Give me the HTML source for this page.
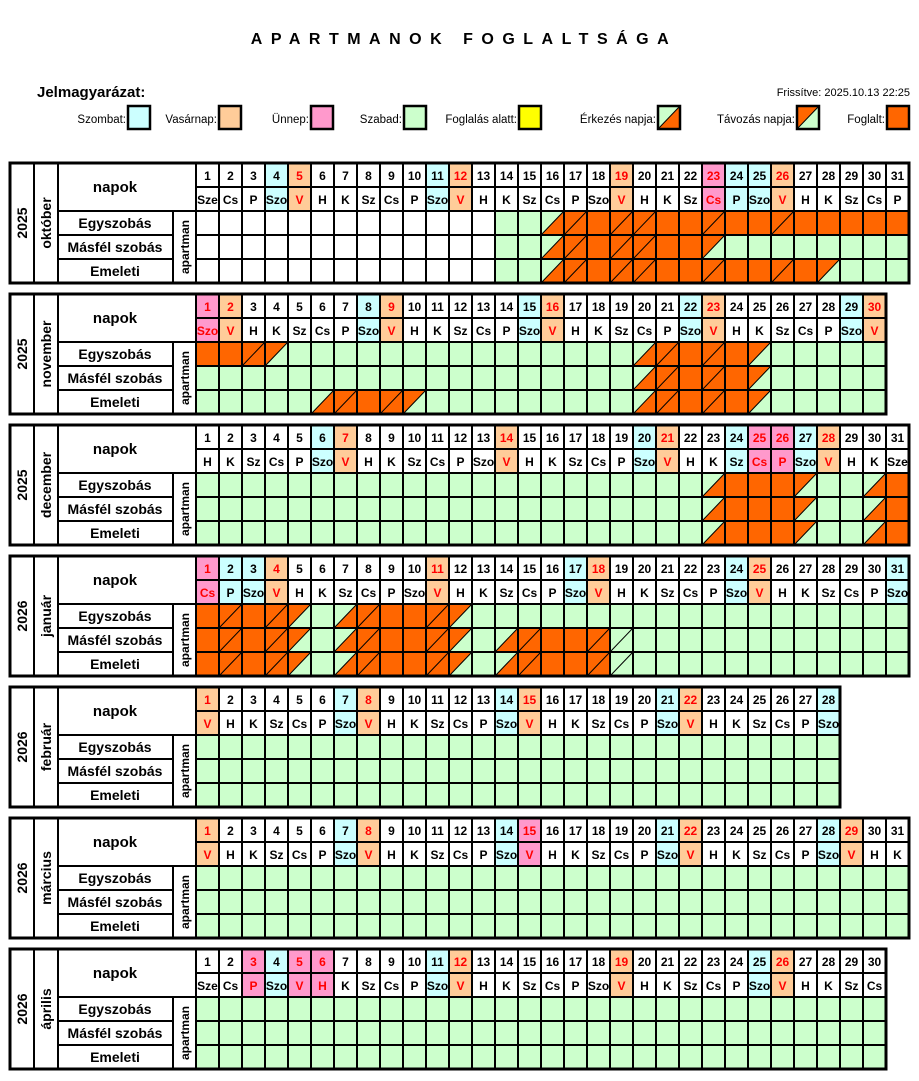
<!DOCTYPE html>
<html><head><meta charset="utf-8"><style>
html,body{margin:0;padding:0;background:#fff;width:919px;height:1081px;overflow:hidden}
svg{display:block}
text{font-family:"Liberation Sans",Arial,sans-serif;font-weight:bold;font-size:12px;text-anchor:middle;fill:#000}
.r{fill:#f00}
.c{fill:#ccffff}.p{fill:#ffcc99}.k{fill:#ff99cc}.g{fill:#ccffcc}.o{fill:#ff6600}.w{fill:#fff}
.ln{fill:none;stroke:#000;stroke-width:2}
.ob{fill:none;stroke:#000;stroke-width:3}
.dg{fill:none;stroke:#000;stroke-width:1}
.lab{font-size:14px}
.nap{font-size:15px}
.lg{font-weight:normal;font-size:11.5px;text-anchor:end}
</style></head><body>
<svg width="919" height="1081" viewBox="0 0 919 1081" xmlns="http://www.w3.org/2000/svg">
<defs><pattern id="vl" x="195" y="0" width="23" height="10" patternUnits="userSpaceOnUse"><rect width="2" height="10" fill="#000"/></pattern></defs>

<text x="464" y="44" style="font-size:16px;letter-spacing:8.5px">APARTMANOK  FOGLALTSÁGA</text>
<text x="37" y="97" style="font-size:15px;text-anchor:start">Jelmagyarázat:</text>
<text x="910" y="96" style="font-size:11px;text-anchor:end;font-weight:normal">Frissítve: 2025.10.13 22:25</text>

<g>
<text class="lg" x="126" y="123">Szombat:</text><rect x="128" y="106" width="22" height="23" class="c" stroke="#000" stroke-width="2.5"/>
<text class="lg" x="217" y="123">Vasárnap:</text><rect x="219" y="106" width="22" height="23" class="p" stroke="#000" stroke-width="2.5"/>
<text class="lg" x="309" y="123">Ünnep:</text><rect x="311" y="106" width="22" height="23" class="k" stroke="#000" stroke-width="2.5"/>
<text class="lg" x="402" y="123">Szabad:</text><rect x="404" y="106" width="22" height="23" class="g" stroke="#000" stroke-width="2.5"/>
<text class="lg" x="517" y="123">Foglalás alatt:</text><rect x="519" y="106" width="22" height="23" fill="#ffff00" stroke="#000" stroke-width="2.5"/>
<text class="lg" x="656" y="123">Érkezés napja:</text><rect x="658" y="106" width="22" height="23" class="g"/><polygon points="658,129 680,106 680,129" class="o"/><path d="M658 129L680 106" class="dg"/><rect x="658" y="106" width="22" height="23" fill="none" stroke="#000" stroke-width="2.5"/>
<text class="lg" x="795" y="123">Távozás napja:</text><rect x="797" y="106" width="22" height="23" class="g"/><polygon points="797,106 819,106 797,129" class="o"/><path d="M797 129L819 106" class="dg"/><rect x="797" y="106" width="22" height="23" fill="none" stroke="#000" stroke-width="2.5"/>
<text class="lg" x="885" y="123">Foglalt:</text><rect x="887" y="106" width="22" height="23" class="o" stroke="#000" stroke-width="2.5"/>
</g>

<!-- OKTOBER -->
<g transform="translate(0,163)">
<rect x="196" y="48" width="299" height="72" class="w"/>
<rect x="495" y="48" width="414" height="72" class="g"/>
<rect x="265" y="0" width="23" height="48" class="c"/><rect x="426" y="0" width="23" height="48" class="c"/><rect x="725" y="0" width="46" height="48" class="c"/>
<rect x="288" y="0" width="23" height="48" class="p"/><rect x="449" y="0" width="23" height="48" class="p"/><rect x="610" y="0" width="23" height="48" class="p"/><rect x="771" y="0" width="23" height="48" class="p"/>
<rect x="702" y="0" width="23" height="48" class="k"/>
<polygon points="541,72 564,48 564,72" class="o"/><rect x="564" y="48" width="345" height="24" class="o"/>
<polygon points="541,96 564,72 564,96" class="o"/><rect x="564" y="72" width="138" height="24" class="o"/><polygon points="702,72 725,72 702,96" class="o"/>
<polygon points="541,120 564,96 564,120" class="o"/><rect x="564" y="96" width="253" height="24" class="o"/><polygon points="817,96 840,96 817,120" class="o"/>
<path class="dg" d="M541 72L564 48M564 72L587 48M610 72L633 48M633 72L656 48M702 72L725 48M771 72L794 48M541 96L564 72M564 96L587 72M610 96L633 72M633 96L656 72M702 96L725 72M541 120L564 96M564 120L587 96M610 120L633 96M633 120L656 96M702 120L725 96M771 120L794 96M817 120L840 96"/>
<rect x="195" y="0" width="714" height="120" fill="url(#vl)"/>
<path class="ln" d="M34 0V120M58 0V120M173 48V120M196 0V120M196 24H909M58 48H909M58 72H173M196 72H909M58 96H173M196 96H909"/>
<rect x="10" y="0" width="899" height="120" class="ob"/>
<text class="lab" transform="translate(27,60) rotate(-90)">2025</text><text class="lab" transform="translate(51,60) rotate(-90)">október</text>
<text x="115" y="29" class="nap">napok</text><text class="lab" x="115" y="65">Egyszobás</text><text class="lab" x="115" y="89">Másfél szobás</text><text class="lab" x="115" y="113">Emeleti</text><text transform="translate(189,84) rotate(-90)" style="font-size:12px">apartman</text>
<text x="207.5" y="17">1</text><text x="230.5" y="17">2</text><text x="253.5" y="17">3</text><text x="276.5" y="17">4</text><text x="299.5" y="17" class="r">5</text><text x="322.5" y="17">6</text><text x="345.5" y="17">7</text><text x="368.5" y="17">8</text><text x="391.5" y="17">9</text><text x="414.5" y="17">10</text><text x="437.5" y="17">11</text><text x="460.5" y="17" class="r">12</text><text x="483.5" y="17">13</text><text x="506.5" y="17">14</text><text x="529.5" y="17">15</text><text x="552.5" y="17">16</text><text x="575.5" y="17">17</text><text x="598.5" y="17">18</text><text x="621.5" y="17" class="r">19</text><text x="644.5" y="17">20</text><text x="667.5" y="17">21</text><text x="690.5" y="17">22</text><text x="713.5" y="17" class="r">23</text><text x="736.5" y="17">24</text><text x="759.5" y="17">25</text><text x="782.5" y="17" class="r">26</text><text x="805.5" y="17">27</text><text x="828.5" y="17">28</text><text x="851.5" y="17">29</text><text x="874.5" y="17">30</text><text x="897.5" y="17">31</text>
<text x="207.5" y="41">Sze</text><text x="230.5" y="41">Cs</text><text x="253.5" y="41">P</text><text x="276.5" y="41">Szo</text><text x="299.5" y="41" class="r">V</text><text x="322.5" y="41">H</text><text x="345.5" y="41">K</text><text x="368.5" y="41">Sz</text><text x="391.5" y="41">Cs</text><text x="414.5" y="41">P</text><text x="437.5" y="41">Szo</text><text x="460.5" y="41" class="r">V</text><text x="483.5" y="41">H</text><text x="506.5" y="41">K</text><text x="529.5" y="41">Sz</text><text x="552.5" y="41">Cs</text><text x="575.5" y="41">P</text><text x="598.5" y="41">Szo</text><text x="621.5" y="41" class="r">V</text><text x="644.5" y="41">H</text><text x="667.5" y="41">K</text><text x="690.5" y="41">Sz</text><text x="713.5" y="41" class="r">Cs</text><text x="736.5" y="41">P</text><text x="759.5" y="41">Szo</text><text x="782.5" y="41" class="r">V</text><text x="805.5" y="41">H</text><text x="828.5" y="41">K</text><text x="851.5" y="41">Sz</text><text x="874.5" y="41">Cs</text><text x="897.5" y="41">P</text>
</g>

<!-- NOVEMBER -->
<g transform="translate(0,294)">
<rect x="196" y="48" width="690" height="72" class="g"/>
<rect x="196" y="0" width="23" height="48" class="k"/>
<rect x="219" y="0" width="23" height="48" class="p"/><rect x="380" y="0" width="23" height="48" class="p"/><rect x="541" y="0" width="23" height="48" class="p"/><rect x="702" y="0" width="23" height="48" class="p"/><rect x="863" y="0" width="23" height="48" class="p"/>
<rect x="357" y="0" width="23" height="48" class="c"/><rect x="518" y="0" width="23" height="48" class="c"/><rect x="679" y="0" width="23" height="48" class="c"/><rect x="840" y="0" width="23" height="48" class="c"/>
<rect x="196" y="48" width="69" height="24" class="o"/><polygon points="265,48 288,48 265,72" class="o"/>
<polygon points="633,72 656,48 656,72" class="o"/><rect x="656" y="48" width="92" height="24" class="o"/><polygon points="748,48 771,48 748,72" class="o"/>
<polygon points="633,96 656,72 656,96" class="o"/><rect x="656" y="72" width="92" height="24" class="o"/><polygon points="748,72 771,72 748,96" class="o"/>
<polygon points="311,120 334,96 334,120" class="o"/><rect x="334" y="96" width="69" height="24" class="o"/><polygon points="403,96 426,96 403,120" class="o"/>
<polygon points="633,120 656,96 656,120" class="o"/><rect x="656" y="96" width="92" height="24" class="o"/><polygon points="748,96 771,96 748,120" class="o"/>
<path class="dg" d="M242 72L265 48M265 72L288 48M633 72L656 48M656 72L679 48M702 72L725 48M748 72L771 48M633 96L656 72M656 96L679 72M702 96L725 72M748 96L771 72M311 120L334 96M334 120L357 96M380 120L403 96M403 120L426 96M633 120L656 96M656 120L679 96M702 120L725 96M748 120L771 96"/>
<rect x="195" y="0" width="691" height="120" fill="url(#vl)"/>
<path class="ln" d="M34 0V120M58 0V120M173 48V120M196 0V120M196 24H886M58 48H886M58 72H173M196 72H886M58 96H173M196 96H886"/>
<rect x="10" y="0" width="876" height="120" class="ob"/>
<text class="lab" transform="translate(27,60) rotate(-90)">2025</text><text class="lab" transform="translate(51,60) rotate(-90)">november</text>
<text x="115" y="29" class="nap">napok</text><text class="lab" x="115" y="65">Egyszobás</text><text class="lab" x="115" y="89">Másfél szobás</text><text class="lab" x="115" y="113">Emeleti</text><text transform="translate(189,84) rotate(-90)" style="font-size:12px">apartman</text>
<text x="207.5" y="17" class="r">1</text><text x="230.5" y="17" class="r">2</text><text x="253.5" y="17">3</text><text x="276.5" y="17">4</text><text x="299.5" y="17">5</text><text x="322.5" y="17">6</text><text x="345.5" y="17">7</text><text x="368.5" y="17">8</text><text x="391.5" y="17" class="r">9</text><text x="414.5" y="17">10</text><text x="437.5" y="17">11</text><text x="460.5" y="17">12</text><text x="483.5" y="17">13</text><text x="506.5" y="17">14</text><text x="529.5" y="17">15</text><text x="552.5" y="17" class="r">16</text><text x="575.5" y="17">17</text><text x="598.5" y="17">18</text><text x="621.5" y="17">19</text><text x="644.5" y="17">20</text><text x="667.5" y="17">21</text><text x="690.5" y="17">22</text><text x="713.5" y="17" class="r">23</text><text x="736.5" y="17">24</text><text x="759.5" y="17">25</text><text x="782.5" y="17">26</text><text x="805.5" y="17">27</text><text x="828.5" y="17">28</text><text x="851.5" y="17">29</text><text x="874.5" y="17" class="r">30</text>
<text x="207.5" y="41" class="r">Szo</text><text x="230.5" y="41" class="r">V</text><text x="253.5" y="41">H</text><text x="276.5" y="41">K</text><text x="299.5" y="41">Sz</text><text x="322.5" y="41">Cs</text><text x="345.5" y="41">P</text><text x="368.5" y="41">Szo</text><text x="391.5" y="41" class="r">V</text><text x="414.5" y="41">H</text><text x="437.5" y="41">K</text><text x="460.5" y="41">Sz</text><text x="483.5" y="41">Cs</text><text x="506.5" y="41">P</text><text x="529.5" y="41">Szo</text><text x="552.5" y="41" class="r">V</text><text x="575.5" y="41">H</text><text x="598.5" y="41">K</text><text x="621.5" y="41">Sz</text><text x="644.5" y="41">Cs</text><text x="667.5" y="41">P</text><text x="690.5" y="41">Szo</text><text x="713.5" y="41" class="r">V</text><text x="736.5" y="41">H</text><text x="759.5" y="41">K</text><text x="782.5" y="41">Sz</text><text x="805.5" y="41">Cs</text><text x="828.5" y="41">P</text><text x="851.5" y="41">Szo</text><text x="874.5" y="41" class="r">V</text>
</g>

<!-- DECEMBER -->
<g transform="translate(0,425)">
<rect x="196" y="48" width="713" height="72" class="g"/>
<rect x="311" y="0" width="23" height="48" class="c"/><rect x="633" y="0" width="23" height="48" class="c"/><rect x="725" y="0" width="23" height="48" class="c"/><rect x="794" y="0" width="23" height="48" class="c"/>
<rect x="334" y="0" width="23" height="48" class="p"/><rect x="495" y="0" width="23" height="48" class="p"/><rect x="656" y="0" width="23" height="48" class="p"/><rect x="817" y="0" width="23" height="48" class="p"/>
<rect x="748" y="0" width="46" height="48" class="k"/>
<polygon points="702,72 725,48 725,72" class="o"/><rect x="725" y="48" width="69" height="72" class="o"/><polygon points="794,48 817,48 794,72" class="o"/><polygon points="863,72 886,48 886,72" class="o"/><rect x="886" y="48" width="23" height="72" class="o"/>
<polygon points="702,96 725,72 725,96" class="o"/><polygon points="794,72 817,72 794,96" class="o"/><polygon points="863,96 886,72 886,96" class="o"/>
<polygon points="702,120 725,96 725,120" class="o"/><polygon points="794,96 817,96 794,120" class="o"/><polygon points="863,120 886,96 886,120" class="o"/>
<path class="dg" d="M702 72L725 48M794 72L817 48M863 72L886 48M702 96L725 72M794 96L817 72M863 96L886 72M702 120L725 96M794 120L817 96M863 120L886 96"/>
<rect x="195" y="0" width="714" height="120" fill="url(#vl)"/>
<path class="ln" d="M34 0V120M58 0V120M173 48V120M196 0V120M196 24H909M58 48H909M58 72H173M196 72H909M58 96H173M196 96H909"/>
<rect x="10" y="0" width="899" height="120" class="ob"/>
<text class="lab" transform="translate(27,60) rotate(-90)">2025</text><text class="lab" transform="translate(51,60) rotate(-90)">december</text>
<text x="115" y="29" class="nap">napok</text><text class="lab" x="115" y="65">Egyszobás</text><text class="lab" x="115" y="89">Másfél szobás</text><text class="lab" x="115" y="113">Emeleti</text><text transform="translate(189,84) rotate(-90)" style="font-size:12px">apartman</text>
<text x="207.5" y="17">1</text><text x="230.5" y="17">2</text><text x="253.5" y="17">3</text><text x="276.5" y="17">4</text><text x="299.5" y="17">5</text><text x="322.5" y="17">6</text><text x="345.5" y="17" class="r">7</text><text x="368.5" y="17">8</text><text x="391.5" y="17">9</text><text x="414.5" y="17">10</text><text x="437.5" y="17">11</text><text x="460.5" y="17">12</text><text x="483.5" y="17">13</text><text x="506.5" y="17" class="r">14</text><text x="529.5" y="17">15</text><text x="552.5" y="17">16</text><text x="575.5" y="17">17</text><text x="598.5" y="17">18</text><text x="621.5" y="17">19</text><text x="644.5" y="17">20</text><text x="667.5" y="17" class="r">21</text><text x="690.5" y="17">22</text><text x="713.5" y="17">23</text><text x="736.5" y="17">24</text><text x="759.5" y="17" class="r">25</text><text x="782.5" y="17" class="r">26</text><text x="805.5" y="17">27</text><text x="828.5" y="17" class="r">28</text><text x="851.5" y="17">29</text><text x="874.5" y="17">30</text><text x="897.5" y="17">31</text>
<text x="207.5" y="41">H</text><text x="230.5" y="41">K</text><text x="253.5" y="41">Sz</text><text x="276.5" y="41">Cs</text><text x="299.5" y="41">P</text><text x="322.5" y="41">Szo</text><text x="345.5" y="41" class="r">V</text><text x="368.5" y="41">H</text><text x="391.5" y="41">K</text><text x="414.5" y="41">Sz</text><text x="437.5" y="41">Cs</text><text x="460.5" y="41">P</text><text x="483.5" y="41">Szo</text><text x="506.5" y="41" class="r">V</text><text x="529.5" y="41">H</text><text x="552.5" y="41">K</text><text x="575.5" y="41">Sz</text><text x="598.5" y="41">Cs</text><text x="621.5" y="41">P</text><text x="644.5" y="41">Szo</text><text x="667.5" y="41" class="r">V</text><text x="690.5" y="41">H</text><text x="713.5" y="41">K</text><text x="736.5" y="41">Sz</text><text x="759.5" y="41" class="r">Cs</text><text x="782.5" y="41" class="r">P</text><text x="805.5" y="41">Szo</text><text x="828.5" y="41" class="r">V</text><text x="851.5" y="41">H</text><text x="874.5" y="41">K</text><text x="897.5" y="41">Sze</text>
</g>

<!-- JANUAR -->
<g transform="translate(0,556)">
<rect x="196" y="48" width="713" height="72" class="g"/>
<rect x="196" y="0" width="23" height="48" class="k"/>
<rect x="219" y="0" width="46" height="48" class="c"/><rect x="564" y="0" width="23" height="48" class="c"/><rect x="725" y="0" width="23" height="48" class="c"/><rect x="886" y="0" width="23" height="48" class="c"/>
<rect x="265" y="0" width="23" height="48" class="p"/><rect x="426" y="0" width="23" height="48" class="p"/><rect x="587" y="0" width="23" height="48" class="p"/><rect x="748" y="0" width="23" height="48" class="p"/>
<rect x="196" y="48" width="92" height="72" class="o"/><rect x="357" y="48" width="92" height="72" class="o"/>
<polygon points="288,48 311,48 288,72" class="o"/><polygon points="334,72 357,48 357,72" class="o"/><polygon points="449,48 472,48 449,72" class="o"/>
<polygon points="288,72 311,72 288,96" class="o"/><polygon points="334,96 357,72 357,96" class="o"/><polygon points="449,72 472,72 449,96" class="o"/>
<polygon points="288,96 311,96 288,120" class="o"/><polygon points="334,120 357,96 357,120" class="o"/><polygon points="449,96 472,96 449,120" class="o"/>
<polygon points="495,96 518,72 518,96" class="o"/><rect x="518" y="72" width="92" height="48" class="o"/><polygon points="587,72 610,72 587,96" class="o"/>
<polygon points="495,120 518,96 518,120" class="o"/><polygon points="587,96 610,96 587,120" class="o"/>
<path class="dg" d="M219 72L242 48M265 72L288 48M288 72L311 48M334 72L357 48M357 72L380 48M426 72L449 48M449 72L472 48M219 96L242 72M265 96L288 72M288 96L311 72M334 96L357 72M357 96L380 72M426 96L449 72M449 96L472 72M495 96L518 72M518 96L541 72M587 96L610 72M610 96L633 72M219 120L242 96M265 120L288 96M288 120L311 96M334 120L357 96M357 120L380 96M426 120L449 96M449 120L472 96M495 120L518 96M518 120L541 96M587 120L610 96M610 120L633 96"/>
<rect x="195" y="0" width="714" height="120" fill="url(#vl)"/>
<path class="ln" d="M34 0V120M58 0V120M173 48V120M196 0V120M196 24H909M58 48H909M58 72H173M196 72H909M58 96H173M196 96H909"/>
<rect x="10" y="0" width="899" height="120" class="ob"/>
<text class="lab" transform="translate(27,60) rotate(-90)">2026</text><text class="lab" transform="translate(51,60) rotate(-90)">január</text>
<text x="115" y="29" class="nap">napok</text><text class="lab" x="115" y="65">Egyszobás</text><text class="lab" x="115" y="89">Másfél szobás</text><text class="lab" x="115" y="113">Emeleti</text><text transform="translate(189,84) rotate(-90)" style="font-size:12px">apartman</text>
<text x="207.5" y="17" class="r">1</text><text x="230.5" y="17">2</text><text x="253.5" y="17">3</text><text x="276.5" y="17" class="r">4</text><text x="299.5" y="17">5</text><text x="322.5" y="17">6</text><text x="345.5" y="17">7</text><text x="368.5" y="17">8</text><text x="391.5" y="17">9</text><text x="414.5" y="17">10</text><text x="437.5" y="17" class="r">11</text><text x="460.5" y="17">12</text><text x="483.5" y="17">13</text><text x="506.5" y="17">14</text><text x="529.5" y="17">15</text><text x="552.5" y="17">16</text><text x="575.5" y="17">17</text><text x="598.5" y="17" class="r">18</text><text x="621.5" y="17">19</text><text x="644.5" y="17">20</text><text x="667.5" y="17">21</text><text x="690.5" y="17">22</text><text x="713.5" y="17">23</text><text x="736.5" y="17">24</text><text x="759.5" y="17" class="r">25</text><text x="782.5" y="17">26</text><text x="805.5" y="17">27</text><text x="828.5" y="17">28</text><text x="851.5" y="17">29</text><text x="874.5" y="17">30</text><text x="897.5" y="17">31</text>
<text x="207.5" y="41" class="r">Cs</text><text x="230.5" y="41">P</text><text x="253.5" y="41">Szo</text><text x="276.5" y="41" class="r">V</text><text x="299.5" y="41">H</text><text x="322.5" y="41">K</text><text x="345.5" y="41">Sz</text><text x="368.5" y="41">Cs</text><text x="391.5" y="41">P</text><text x="414.5" y="41">Szo</text><text x="437.5" y="41" class="r">V</text><text x="460.5" y="41">H</text><text x="483.5" y="41">K</text><text x="506.5" y="41">Sz</text><text x="529.5" y="41">Cs</text><text x="552.5" y="41">P</text><text x="575.5" y="41">Szo</text><text x="598.5" y="41" class="r">V</text><text x="621.5" y="41">H</text><text x="644.5" y="41">K</text><text x="667.5" y="41">Sz</text><text x="690.5" y="41">Cs</text><text x="713.5" y="41">P</text><text x="736.5" y="41">Szo</text><text x="759.5" y="41" class="r">V</text><text x="782.5" y="41">H</text><text x="805.5" y="41">K</text><text x="828.5" y="41">Sz</text><text x="851.5" y="41">Cs</text><text x="874.5" y="41">P</text><text x="897.5" y="41">Szo</text>
</g>

<!-- FEBRUAR -->
<g transform="translate(0,687)">
<rect x="196" y="48" width="644" height="72" class="g"/>
<rect x="196" y="0" width="23" height="48" class="p"/><rect x="357" y="0" width="23" height="48" class="p"/><rect x="518" y="0" width="23" height="48" class="p"/><rect x="679" y="0" width="23" height="48" class="p"/>
<rect x="334" y="0" width="23" height="48" class="c"/><rect x="495" y="0" width="23" height="48" class="c"/><rect x="656" y="0" width="23" height="48" class="c"/><rect x="817" y="0" width="23" height="48" class="c"/>
<rect x="195" y="0" width="645" height="120" fill="url(#vl)"/>
<path class="ln" d="M34 0V120M58 0V120M173 48V120M196 0V120M196 24H840M58 48H840M58 72H173M196 72H840M58 96H173M196 96H840"/>
<rect x="10" y="0" width="830" height="120" class="ob"/>
<text class="lab" transform="translate(27,60) rotate(-90)">2026</text><text class="lab" transform="translate(51,60) rotate(-90)">február</text>
<text x="115" y="29" class="nap">napok</text><text class="lab" x="115" y="65">Egyszobás</text><text class="lab" x="115" y="89">Másfél szobás</text><text class="lab" x="115" y="113">Emeleti</text><text transform="translate(189,84) rotate(-90)" style="font-size:12px">apartman</text>
<text x="207.5" y="17" class="r">1</text><text x="230.5" y="17">2</text><text x="253.5" y="17">3</text><text x="276.5" y="17">4</text><text x="299.5" y="17">5</text><text x="322.5" y="17">6</text><text x="345.5" y="17">7</text><text x="368.5" y="17" class="r">8</text><text x="391.5" y="17">9</text><text x="414.5" y="17">10</text><text x="437.5" y="17">11</text><text x="460.5" y="17">12</text><text x="483.5" y="17">13</text><text x="506.5" y="17">14</text><text x="529.5" y="17" class="r">15</text><text x="552.5" y="17">16</text><text x="575.5" y="17">17</text><text x="598.5" y="17">18</text><text x="621.5" y="17">19</text><text x="644.5" y="17">20</text><text x="667.5" y="17">21</text><text x="690.5" y="17" class="r">22</text><text x="713.5" y="17">23</text><text x="736.5" y="17">24</text><text x="759.5" y="17">25</text><text x="782.5" y="17">26</text><text x="805.5" y="17">27</text><text x="828.5" y="17">28</text>
<text x="207.5" y="41" class="r">V</text><text x="230.5" y="41">H</text><text x="253.5" y="41">K</text><text x="276.5" y="41">Sz</text><text x="299.5" y="41">Cs</text><text x="322.5" y="41">P</text><text x="345.5" y="41">Szo</text><text x="368.5" y="41" class="r">V</text><text x="391.5" y="41">H</text><text x="414.5" y="41">K</text><text x="437.5" y="41">Sz</text><text x="460.5" y="41">Cs</text><text x="483.5" y="41">P</text><text x="506.5" y="41">Szo</text><text x="529.5" y="41" class="r">V</text><text x="552.5" y="41">H</text><text x="575.5" y="41">K</text><text x="598.5" y="41">Sz</text><text x="621.5" y="41">Cs</text><text x="644.5" y="41">P</text><text x="667.5" y="41">Szo</text><text x="690.5" y="41" class="r">V</text><text x="713.5" y="41">H</text><text x="736.5" y="41">K</text><text x="759.5" y="41">Sz</text><text x="782.5" y="41">Cs</text><text x="805.5" y="41">P</text><text x="828.5" y="41">Szo</text>
</g>

<!-- MARCIUS -->
<g transform="translate(0,818)">
<rect x="196" y="48" width="713" height="72" class="g"/>
<rect x="196" y="0" width="23" height="48" class="p"/><rect x="357" y="0" width="23" height="48" class="p"/><rect x="679" y="0" width="23" height="48" class="p"/><rect x="840" y="0" width="23" height="48" class="p"/>
<rect x="518" y="0" width="23" height="48" class="k"/>
<rect x="334" y="0" width="23" height="48" class="c"/><rect x="495" y="0" width="23" height="48" class="c"/><rect x="656" y="0" width="23" height="48" class="c"/><rect x="817" y="0" width="23" height="48" class="c"/>
<rect x="195" y="0" width="714" height="120" fill="url(#vl)"/>
<path class="ln" d="M34 0V120M58 0V120M173 48V120M196 0V120M196 24H909M58 48H909M58 72H173M196 72H909M58 96H173M196 96H909"/>
<rect x="10" y="0" width="899" height="120" class="ob"/>
<text class="lab" transform="translate(27,60) rotate(-90)">2026</text><text class="lab" transform="translate(51,60) rotate(-90)">március</text>
<text x="115" y="29" class="nap">napok</text><text class="lab" x="115" y="65">Egyszobás</text><text class="lab" x="115" y="89">Másfél szobás</text><text class="lab" x="115" y="113">Emeleti</text><text transform="translate(189,84) rotate(-90)" style="font-size:12px">apartman</text>
<text x="207.5" y="17" class="r">1</text><text x="230.5" y="17">2</text><text x="253.5" y="17">3</text><text x="276.5" y="17">4</text><text x="299.5" y="17">5</text><text x="322.5" y="17">6</text><text x="345.5" y="17">7</text><text x="368.5" y="17" class="r">8</text><text x="391.5" y="17">9</text><text x="414.5" y="17">10</text><text x="437.5" y="17">11</text><text x="460.5" y="17">12</text><text x="483.5" y="17">13</text><text x="506.5" y="17">14</text><text x="529.5" y="17" class="r">15</text><text x="552.5" y="17">16</text><text x="575.5" y="17">17</text><text x="598.5" y="17">18</text><text x="621.5" y="17">19</text><text x="644.5" y="17">20</text><text x="667.5" y="17">21</text><text x="690.5" y="17" class="r">22</text><text x="713.5" y="17">23</text><text x="736.5" y="17">24</text><text x="759.5" y="17">25</text><text x="782.5" y="17">26</text><text x="805.5" y="17">27</text><text x="828.5" y="17">28</text><text x="851.5" y="17" class="r">29</text><text x="874.5" y="17">30</text><text x="897.5" y="17">31</text>
<text x="207.5" y="41" class="r">V</text><text x="230.5" y="41">H</text><text x="253.5" y="41">K</text><text x="276.5" y="41">Sz</text><text x="299.5" y="41">Cs</text><text x="322.5" y="41">P</text><text x="345.5" y="41">Szo</text><text x="368.5" y="41" class="r">V</text><text x="391.5" y="41">H</text><text x="414.5" y="41">K</text><text x="437.5" y="41">Sz</text><text x="460.5" y="41">Cs</text><text x="483.5" y="41">P</text><text x="506.5" y="41">Szo</text><text x="529.5" y="41" class="r">V</text><text x="552.5" y="41">H</text><text x="575.5" y="41">K</text><text x="598.5" y="41">Sz</text><text x="621.5" y="41">Cs</text><text x="644.5" y="41">P</text><text x="667.5" y="41">Szo</text><text x="690.5" y="41" class="r">V</text><text x="713.5" y="41">H</text><text x="736.5" y="41">K</text><text x="759.5" y="41">Sz</text><text x="782.5" y="41">Cs</text><text x="805.5" y="41">P</text><text x="828.5" y="41">Szo</text><text x="851.5" y="41" class="r">V</text><text x="874.5" y="41">H</text><text x="897.5" y="41">K</text>
</g>

<!-- APRILIS -->
<g transform="translate(0,949)">
<rect x="196" y="48" width="690" height="72" class="g"/>
<rect x="242" y="0" width="23" height="48" class="k"/><rect x="288" y="0" width="46" height="48" class="k"/>
<rect x="265" y="0" width="23" height="48" class="c"/><rect x="426" y="0" width="23" height="48" class="c"/><rect x="748" y="0" width="23" height="48" class="c"/>
<rect x="449" y="0" width="23" height="48" class="p"/><rect x="610" y="0" width="23" height="48" class="p"/><rect x="771" y="0" width="23" height="48" class="p"/>
<rect x="195" y="0" width="691" height="120" fill="url(#vl)"/>
<path class="ln" d="M34 0V120M58 0V120M173 48V120M196 0V120M196 24H886M58 48H886M58 72H173M196 72H886M58 96H173M196 96H886"/>
<rect x="10" y="0" width="876" height="120" class="ob"/>
<text class="lab" transform="translate(27,60) rotate(-90)">2026</text><text class="lab" transform="translate(51,60) rotate(-90)">április</text>
<text x="115" y="29" class="nap">napok</text><text class="lab" x="115" y="65">Egyszobás</text><text class="lab" x="115" y="89">Másfél szobás</text><text class="lab" x="115" y="113">Emeleti</text><text transform="translate(189,84) rotate(-90)" style="font-size:12px">apartman</text>
<text x="207.5" y="17">1</text><text x="230.5" y="17">2</text><text x="253.5" y="17" class="r">3</text><text x="276.5" y="17">4</text><text x="299.5" y="17" class="r">5</text><text x="322.5" y="17" class="r">6</text><text x="345.5" y="17">7</text><text x="368.5" y="17">8</text><text x="391.5" y="17">9</text><text x="414.5" y="17">10</text><text x="437.5" y="17">11</text><text x="460.5" y="17" class="r">12</text><text x="483.5" y="17">13</text><text x="506.5" y="17">14</text><text x="529.5" y="17">15</text><text x="552.5" y="17">16</text><text x="575.5" y="17">17</text><text x="598.5" y="17">18</text><text x="621.5" y="17" class="r">19</text><text x="644.5" y="17">20</text><text x="667.5" y="17">21</text><text x="690.5" y="17">22</text><text x="713.5" y="17">23</text><text x="736.5" y="17">24</text><text x="759.5" y="17">25</text><text x="782.5" y="17" class="r">26</text><text x="805.5" y="17">27</text><text x="828.5" y="17">28</text><text x="851.5" y="17">29</text><text x="874.5" y="17">30</text>
<text x="207.5" y="41">Sze</text><text x="230.5" y="41">Cs</text><text x="253.5" y="41" class="r">P</text><text x="276.5" y="41">Szo</text><text x="299.5" y="41" class="r">V</text><text x="322.5" y="41" class="r">H</text><text x="345.5" y="41">K</text><text x="368.5" y="41">Sz</text><text x="391.5" y="41">Cs</text><text x="414.5" y="41">P</text><text x="437.5" y="41">Szo</text><text x="460.5" y="41" class="r">V</text><text x="483.5" y="41">H</text><text x="506.5" y="41">K</text><text x="529.5" y="41">Sz</text><text x="552.5" y="41">Cs</text><text x="575.5" y="41">P</text><text x="598.5" y="41">Szo</text><text x="621.5" y="41" class="r">V</text><text x="644.5" y="41">H</text><text x="667.5" y="41">K</text><text x="690.5" y="41">Sz</text><text x="713.5" y="41">Cs</text><text x="736.5" y="41">P</text><text x="759.5" y="41">Szo</text><text x="782.5" y="41" class="r">V</text><text x="805.5" y="41">H</text><text x="828.5" y="41">K</text><text x="851.5" y="41">Sz</text><text x="874.5" y="41">Cs</text>
</g>
</svg>
</body></html>
